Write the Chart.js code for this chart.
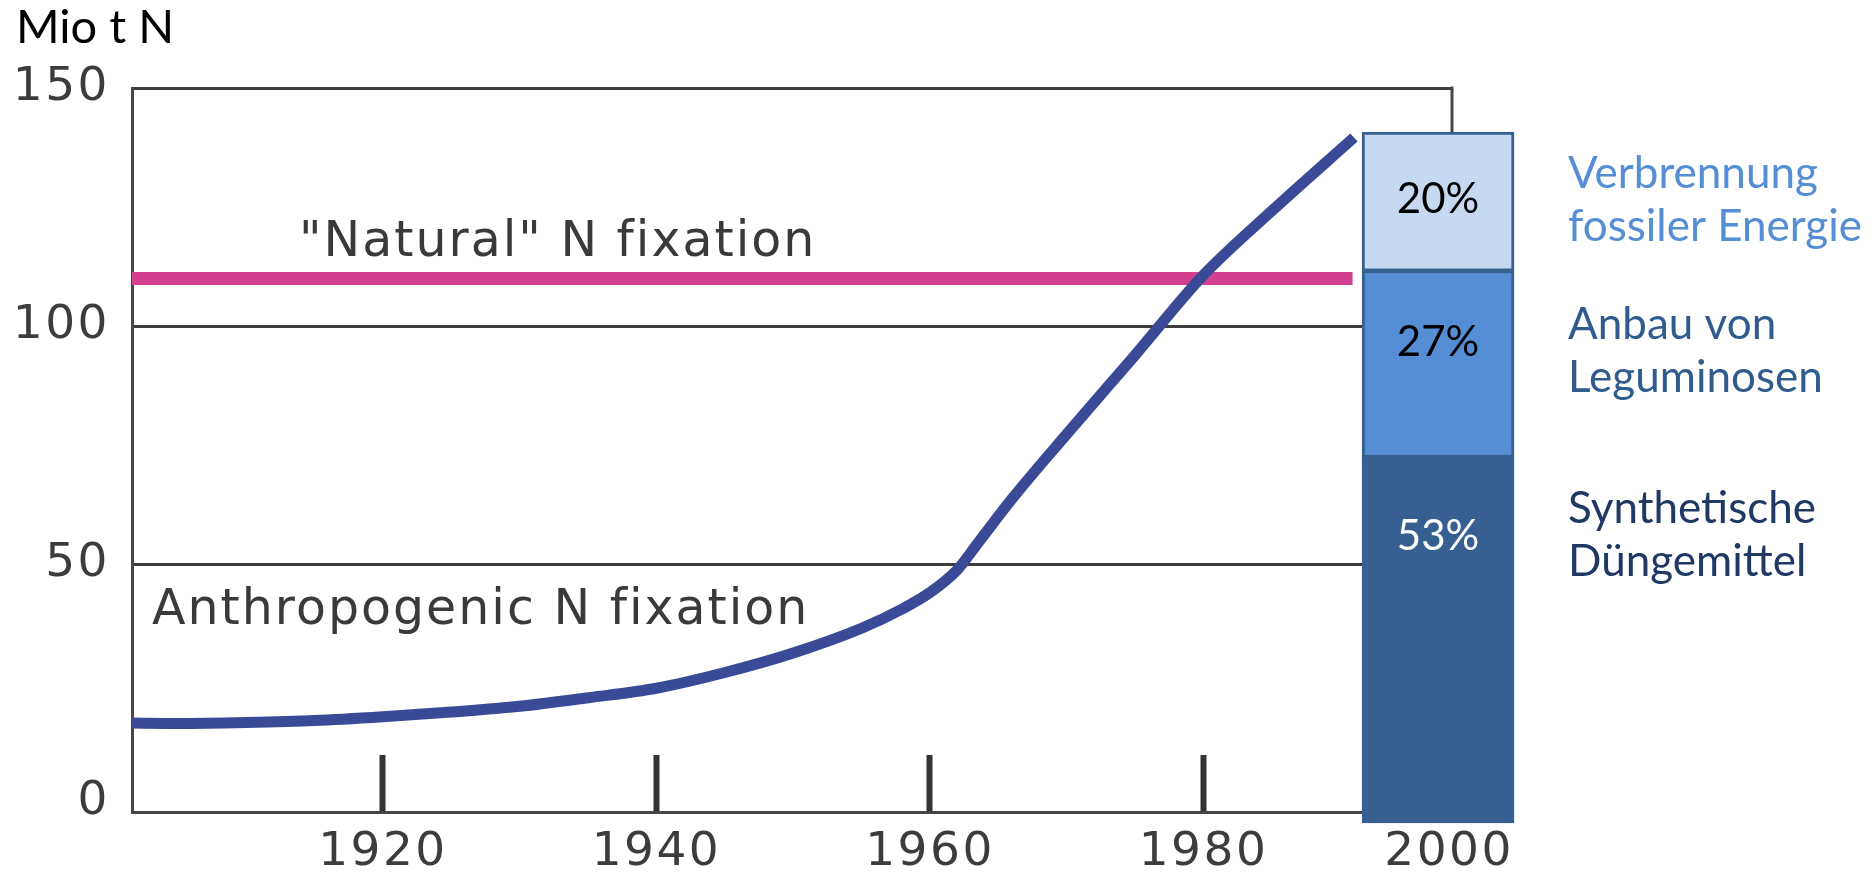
<!DOCTYPE html>
<html>
<head>
<meta charset="utf-8">
<script src="https://cdn.jsdelivr.net/npm/chart.js@4.4.1/dist/chart.umd.min.js"></script>
<style>
  html, body { margin: 0; padding: 0; background: #ffffff; }
  #wrap { width: 1875px; height: 877px; }
</style>
</head>
<body>
<div id="wrap"><canvas id="chart" width="1875" height="877"></canvas></div>
<script>
// Anthropogenic nitrogen fixation (Mio t N per year)
const anthroYears  = [1901.65, 1905, 1910, 1915, 1920, 1925, 1930, 1935, 1940, 1945, 1950, 1955, 1958, 1960, 1962, 1963.5, 1966, 1970, 1975, 1980, 1985, 1991];
const anthroValues = [16.6, 16.5, 16.7, 17.1, 17.9, 18.9, 20.1, 21.9, 23.9, 27.2, 31.3, 36.5, 40.6, 44.0, 48.8, 54.4, 63.7, 77.3, 93.9, 110.7, 124.2, 139.6];

// "Natural" nitrogen fixation, constant level
const naturalYears  = [1901.65, 1990.9];
const naturalValues = [110, 110];

// Axis ticks
const yearTicks  = [1920, 1940, 1960, 1980];
const valueTicks = [0, 50, 100, 150];

// Shares of anthropogenic fixation around 2000 (percent), bottom to top
const shareYear   = 2000;
const shareNames  = [['Synthetische', 'Düngemittel'], ['Anbau von', 'Leguminosen'], ['Verbrennung', 'fossiler Energie']];
const shareValues = [53, 27, 20];

const seriesNames = ['Anthropogenic N fixation', '"Natural" N fixation'];
const unitLabel = 'Mio t N';

const toPoints = (xs, ys) => xs.map((x, i) => ({ x, y: ys[i] }));

const shareStyles = [
  { fill: '#376092', border: '#376092', text: '#ffffff', legend: '#1f3864', labelOffset: 80, legendOffset: 66 },
  { fill: '#558ed5', border: '#37608f', text: '#000000', legend: '#2f5b8f', labelOffset: 72, legendOffset: 69 },
  { fill: '#c6d9f1', border: '#37608f', text: '#000000', legend: '#558ed5', labelOffset: 67, legendOffset: 56 }
];

const shareDatasets = shareValues.map((v, i) => ({
  type: 'bar',
  label: shareNames[i].join(' '),
  data: [{ x: shareYear, y: v }],
  xAxisID: 'xb',
  yAxisID: 'yb',
  stack: 'share',
  grouped: false,
  backgroundColor: shareStyles[i].fill,
  borderColor: shareStyles[i].border,
  borderWidth: { top: 3, left: 3, right: 3, bottom: 2 },
  borderSkipped: false,
  barThickness: 152,
  clip: false,
  order: 0
}));

// spaced axis digits
const spacing = {
  id: 'spacing',
  beforeDraw(chart) { chart.ctx.letterSpacing = '2.5px'; },
  afterDraw(chart) { chart.ctx.letterSpacing = '0px'; }
};

const overlay = {
  id: 'overlay',
  beforeDatasetsDraw(chart) {
    const { ctx, chartArea: a } = chart;
    ctx.save();
    ctx.strokeStyle = '#474747';
    ctx.lineWidth = 3;
    ctx.beginPath();
    ctx.moveTo(a.right, a.top - 1.5);
    ctx.lineTo(a.right, a.bottom);
    ctx.stroke();
    ctx.restore();
  },
  afterDatasetsDraw(chart) {
    const { ctx, chartArea: a, scales } = chart;
    ctx.save();

    // series names written into the plot
    ctx.font = '49px "DejaVu Sans"';
    ctx.fillStyle = '#3a3a3a';
    ctx.textAlign = 'left';
    ctx.textBaseline = 'alphabetic';
    ctx.letterSpacing = '2px';
    ctx.fillText(seriesNames[1], scales.x.getPixelForValue(naturalYears[0]) + 167, scales.y.getPixelForValue(naturalValues[0]) - 22);
    ctx.fillText(seriesNames[0], a.left + 20, scales.y.getPixelForValue(50) + 60);
    ctx.letterSpacing = '0px';

    // unit label
    ctx.font = '47px Lato';
    ctx.fillStyle = '#000000';
    ctx.fillText(unitLabel, 16, a.top - 45);

    // share bar: percentages and names
    shareValues.forEach((v, i) => {
      const el = chart.getDatasetMeta(i).data[0];
      if (!el) return;
      const st = shareStyles[i];
      ctx.font = '42px Lato';
      ctx.textAlign = 'center';
      ctx.textBaseline = 'middle';
      ctx.fillStyle = st.text;
      ctx.fillText(v + '%', el.x, el.y + st.labelOffset);

      ctx.font = '44px Lato';
      ctx.textAlign = 'left';
      ctx.textBaseline = 'alphabetic';
      ctx.fillStyle = st.legend;
      shareNames[i].forEach((line, k) => {
        ctx.fillText(line, el.x + el.width / 2 + 54, el.y + st.legendOffset + k * 53);
      });
    });

    // year label under the share bar
    const first = chart.getDatasetMeta(0).data[0];
    if (first) {
      ctx.font = '47px "DejaVu Sans"';
      ctx.letterSpacing = '2.5px';
      ctx.fillStyle = '#3c3c3c';
      ctx.textAlign = 'center';
      ctx.textBaseline = 'middle';
      ctx.fillText(String(shareYear), first.x + 11, a.bottom + 41);
    }
    ctx.restore();
  }
};

new Chart(document.getElementById('chart'), {
  data: {
    datasets: [
      ...shareDatasets,
      {
        type: 'line',
        label: seriesNames[0],
        data: toPoints(anthroYears, anthroValues),
        xAxisID: 'x',
        yAxisID: 'y',
        borderColor: '#3b4a96',
        borderWidth: 11,
        borderCapStyle: 'butt',
        cubicInterpolationMode: 'monotone',
        pointRadius: 0,
        fill: false,
        order: 1
      },
      {
        type: 'line',
        label: seriesNames[1],
        data: toPoints(naturalYears, naturalValues),
        xAxisID: 'x',
        yAxisID: 'y',
        borderColor: '#d2408f',
        borderWidth: 13,
        borderCapStyle: 'butt',
        pointRadius: 0,
        fill: false,
        order: 2
      }
    ]
  },
  options: {
    responsive: false,
    animation: false,
    devicePixelRatio: 1,
    layout: { padding: { left: 0, top: 88, right: 423, bottom: 0 } },
    plugins: { legend: { display: false }, tooltip: { enabled: false } },
    scales: {
      x: {
        type: 'linear',
        position: 'bottom',
        offset: false,
        min: 1901.65,
        max: 1998.17,
        afterBuildTicks: s => { s.ticks = yearTicks.map(v => ({ value: v })); },
        afterFit: s => { s.height = 65; },
        ticks: {
          callback: v => String(v),
          color: '#3c3c3c',
          font: { family: 'DejaVu Sans', size: 47 },
          padding: 70,
          maxRotation: 0,
          autoSkip: false
        },
        grid: {
          display: true,
          drawOnChartArea: false,
          drawTicks: true,
          tickLength: -57,
          tickColor: '#333333',
          tickWidth: 6
        },
        border: { display: true, color: '#474747', width: 3 }
      },
      y: {
        type: 'linear',
        position: 'left',
        min: -2.1,
        max: 150,
        afterBuildTicks: s => { s.ticks = valueTicks.map(v => ({ value: v })); },
        afterFit: s => { s.width = 132; },
        ticks: {
          color: '#3c3c3c',
          font: { family: 'DejaVu Sans', size: 47 },
          padding: 22
        },
        grid: {
          drawTicks: false,
          lineWidth: 3,
          color: c => (c.tick && c.tick.value === 0) ? 'rgba(0,0,0,0)' : '#3d3d3d'
        },
        border: { display: true, color: '#474747', width: 3 }
      },
      xb: {
        type: 'linear',
        position: 'bottom',
        display: false,
        offset: false,
        grid: { offset: false },
        min: 1901.65,
        max: 2001.05,
        stacked: true
      },
      yb: {
        type: 'linear',
        display: false,
        min: 1.59,
        max: 106.37,
        stacked: true
      }
    }
  },
  plugins: [spacing, overlay]
});
</script>
</body>
</html>
